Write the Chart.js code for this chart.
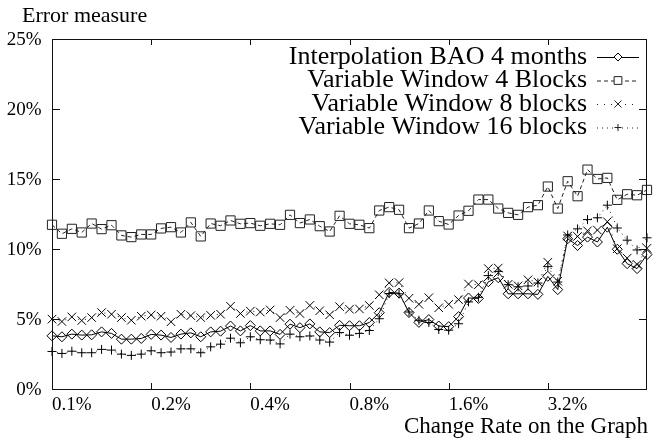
<!DOCTYPE html>
<html>
<head>
<meta charset="utf-8">
<script src="https://cdn.jsdelivr.net/npm/chart.js@4.4.0/dist/chart.umd.min.js"></script>
<style>
  html, body { margin: 0; padding: 0; background: #fff; }
  #wrap { width: 655px; height: 438px; }
</style>
</head>
<body>
<div id="wrap"><canvas id="myChart" width="655" height="438"></canvas></div>
<script>
'use strict';

// change rate on the graph (%), ten steps per doubling
let rates = [0.100, 0.107, 0.115, 0.123, 0.132, 0.141, 0.152, 0.162, 0.174, 0.187,
  0.200, 0.214, 0.230, 0.246, 0.264, 0.283, 0.303, 0.325, 0.348, 0.373,
  0.400, 0.429, 0.459, 0.492, 0.528, 0.566, 0.606, 0.650, 0.696, 0.746,
  0.800, 0.857, 0.919, 0.985, 1.056, 1.131, 1.213, 1.300, 1.393, 1.493,
  1.600, 1.715, 1.838, 1.970, 2.111, 2.263, 2.425, 2.599, 2.786, 2.986,
  3.200, 3.430, 3.676, 3.940, 4.222, 4.525, 4.850, 5.198, 5.571, 5.971, 6.400];

let tickLabels = ['0.1%', '0.2%', '0.4%', '0.8%', '1.6%', '3.2%'];

let seriesNames = ['Interpolation BAO 4 months', 'Variable Window 4 Blocks',
  'Variable Window 8 blocks', 'Variable Window 16 blocks'];

let baoErr = [3.80, 3.73, 3.92, 3.85, 3.87, 4.08, 3.97, 3.56, 3.56, 3.61,
  3.90, 3.85, 3.68, 3.92, 4.01, 3.73, 4.08, 4.13, 4.50, 4.15,
  4.53, 4.15, 4.15, 3.90, 4.63, 4.38, 4.65, 4.08, 4.03, 4.55,
  4.52, 4.52, 4.75, 5.45, 6.90, 6.85, 5.46, 4.76, 4.96, 4.50,
  4.45, 5.17, 6.50, 6.47, 7.66, 7.95, 6.80, 6.80, 6.80, 6.76,
  8.05, 7.10, 10.73, 10.25, 10.85, 10.50, 11.56, 9.98, 8.95, 8.60, 9.60];

let vw4Err = [11.73, 11.09, 11.44, 11.18, 11.82, 11.42, 11.70, 10.97, 10.85, 11.04,
  11.04, 11.47, 11.56, 11.18, 11.90, 10.90, 11.82, 11.66, 12.04, 11.80,
  11.85, 11.66, 11.80, 11.73, 12.44, 11.85, 12.11, 11.63, 11.25, 12.37,
  11.80, 11.73, 11.49, 12.75, 12.99, 12.80, 11.49, 11.82, 12.75, 11.99,
  11.75, 12.39, 12.73, 13.53, 13.53, 12.89, 12.58, 12.44, 12.99, 13.13,
  14.46, 12.89, 14.84, 13.77, 15.67, 15.00, 15.08, 13.51, 13.91, 13.84, 14.22];

let vw8Err = [4.99, 4.82, 5.15, 4.89, 5.10, 5.46, 5.34, 5.10, 4.91, 5.20,
  5.29, 5.20, 4.80, 5.34, 5.24, 5.10, 5.26, 5.34, 5.91, 5.39,
  5.56, 5.50, 5.65, 5.10, 5.62, 5.39, 5.97, 5.59, 5.30, 5.88,
  5.70, 5.72, 5.97, 6.73, 7.58, 7.60, 6.48, 6.05, 6.52, 5.80,
  6.05, 6.38, 7.50, 7.45, 8.60, 8.64, 7.48, 7.37, 7.80, 7.64,
  9.05, 7.70, 10.93, 10.90, 11.30, 11.35, 11.95, 10.02, 9.35, 8.90, 10.05];

let vw16Err = [2.68, 2.54, 2.70, 2.59, 2.59, 2.83, 2.78, 2.49, 2.40, 2.49,
  2.73, 2.59, 2.64, 2.87, 2.87, 2.59, 3.01, 3.20, 3.63, 3.30,
  3.73, 3.52, 3.50, 3.22, 3.92, 3.73, 3.79, 3.50, 3.35, 4.03,
  3.84, 3.97, 4.18, 5.02, 6.82, 6.80, 5.50, 4.91, 4.75, 4.25,
  4.20, 4.66, 6.22, 6.55, 8.10, 8.40, 7.45, 7.30, 7.36, 7.57,
  8.74, 7.64, 11.00, 11.44, 12.10, 12.23, 13.13, 11.50, 10.63, 9.93, 10.80];

let serif = '"Liberation Serif", "DejaVu Serif", serif';

// gnuplot look: border, inward ticks on all sides, key on the right, axis labels
const gnuplotFrame = {
    id: 'gnuplotFrame',
    afterDatasetsDraw(chart) {
        const ctx = chart.ctx;
        const a = chart.chartArea;
        const xs = chart.scales.x;
        const ys = chart.scales.y;
        ctx.save();
        ctx.strokeStyle = '#111';
        ctx.lineWidth = 1;
        ctx.setLineDash([]);
        ctx.strokeRect(a.left + 0.5, a.top + 0.5, a.right - a.left - 1, a.bottom - a.top);

        ctx.beginPath();
        for (let i = 0; i < rates.length; i += 10) {
            let px = Math.round(xs.getPixelForTick(i)) + 0.5;
            ctx.moveTo(px, a.bottom);
            ctx.lineTo(px, a.bottom - 6);
            ctx.moveTo(px, a.top);
            ctx.lineTo(px, a.top + 6);
        }
        ys.ticks.forEach((t, j) => {
            let py = Math.round(ys.getPixelForTick(j)) + 0.5;
            ctx.moveTo(a.left, py);
            ctx.lineTo(a.left + 8, py);
            ctx.moveTo(a.right, py);
            ctx.lineTo(a.right - 8, py);
        });
        ctx.stroke();

        // y tick labels
        ctx.font = '19px ' + serif;
        ctx.fillStyle = '#000';
        ctx.textAlign = 'right';
        ctx.textBaseline = 'middle';
        ys.ticks.forEach((t, j) => {
            ctx.fillText(t.value + '%', 41.5, ys.getPixelForTick(j) + 1.5);
        });

        // key
        ctx.font = '26px ' + serif;
        chart.data.datasets.forEach((ds, i) => {
            let ty = 57 + i * 23.5;
            ctx.fillText(ds.label, 587, ty);
            ctx.strokeStyle = ds.borderColor;
            ctx.lineWidth = 1;
            ctx.setLineDash(ds.borderDash || []);
            ctx.beginPath();
            ctx.moveTo(597, ty + 0.5);
            ctx.lineTo(639, ty + 0.5);
            ctx.stroke();
            ctx.setLineDash([]);
            ctx.fillStyle = '#fff';
            Chart.helpers.drawPoint(ctx, {
                pointStyle: ds.pointStyle,
                radius: ds.pointRadius - 1,
                rotation: 0,
                borderWidth: 1
            }, 618, ty);
            ctx.fillStyle = '#000';
        });

        ctx.font = '22px ' + serif;
        ctx.textAlign = 'left';
        ctx.fillText('Error measure', 22, 16);
        ctx.font = '23px ' + serif;
        ctx.textAlign = 'right';
        ctx.fillText('Change Rate on the Graph', 648, 427);
        ctx.restore();
    },
    afterDraw(chart) {
        // nothing belongs in the first few columns of the canvas
        const ctx = chart.ctx;
        ctx.save();
        ctx.fillStyle = '#fff';
        ctx.fillRect(0, 0, 5, chart.height);
        ctx.restore();
    }
};

function createChart() {
    let ctx = document.getElementById('myChart').getContext('2d');

    let myChart = new Chart(ctx, {
        type: 'line',
        data: {
            labels: rates,
            datasets: [{
                label: seriesNames[0],
                data: baoErr,
                borderColor: '#000',
                borderWidth: 1,
                pointStyle: 'rectRot',
                pointRadius: 5,
                pointBorderWidth: 1,
                pointBorderColor: '#000',
                pointBackgroundColor: 'rgba(0,0,0,0)',
                tension: 0
            }, {
                label: seriesNames[1],
                data: vw4Err,
                borderColor: '#222',
                borderWidth: 1,
                borderDash: [4, 3],
                pointStyle: 'rect',
                pointRadius: 6.5,
                pointBorderWidth: 1,
                pointBorderColor: '#222',
                pointBackgroundColor: 'rgba(0,0,0,0)',
                tension: 0
            }, {
                label: seriesNames[2],
                data: vw8Err,
                borderColor: '#222',
                borderWidth: 1,
                borderDash: [1, 6],
                pointStyle: 'crossRot',
                pointRadius: 6,
                pointBorderWidth: 1,
                pointBorderColor: '#000',
                tension: 0
            }, {
                label: seriesNames[3],
                data: vw16Err,
                borderColor: '#222',
                borderWidth: 1,
                borderDash: [1, 4],
                pointStyle: 'cross',
                pointRadius: 4.5,
                pointBorderWidth: 1,
                pointBorderColor: '#000',
                tension: 0
            }]
        },
        options: {
            responsive: false,
            animation: false,
            layout: { padding: { top: 39, right: 8, left: 0, bottom: 0 } },
            plugins: {
                legend: { display: false },
                tooltip: { enabled: false }
            },
            scales: {
                x: {
                    type: 'category',
                    offset: false,
                    grid: { display: false, drawTicks: false },
                    border: { display: false },
                    afterFit: (s) => { s.height = 49; },
                    ticks: {
                        autoSkip: false,
                        maxRotation: 0,
                        minRotation: 0,
                        align: 'start',
                        padding: 5,
                        color: '#000',
                        font: { family: serif, size: 19 },
                        callback: (val, idx) => (idx % 10 === 0 ? tickLabels[idx / 10] : '')
                    }
                },
                y: {
                    min: 0,
                    max: 25,
                    grid: { display: false, drawTicks: false },
                    border: { display: false },
                    afterFit: (s) => { s.width = 52; },
                    ticks: {
                        display: false,
                        stepSize: 5
                    }
                }
            }
        },
        plugins: [gnuplotFrame]
    });
}

createChart()
</script>
</body>
</html>
